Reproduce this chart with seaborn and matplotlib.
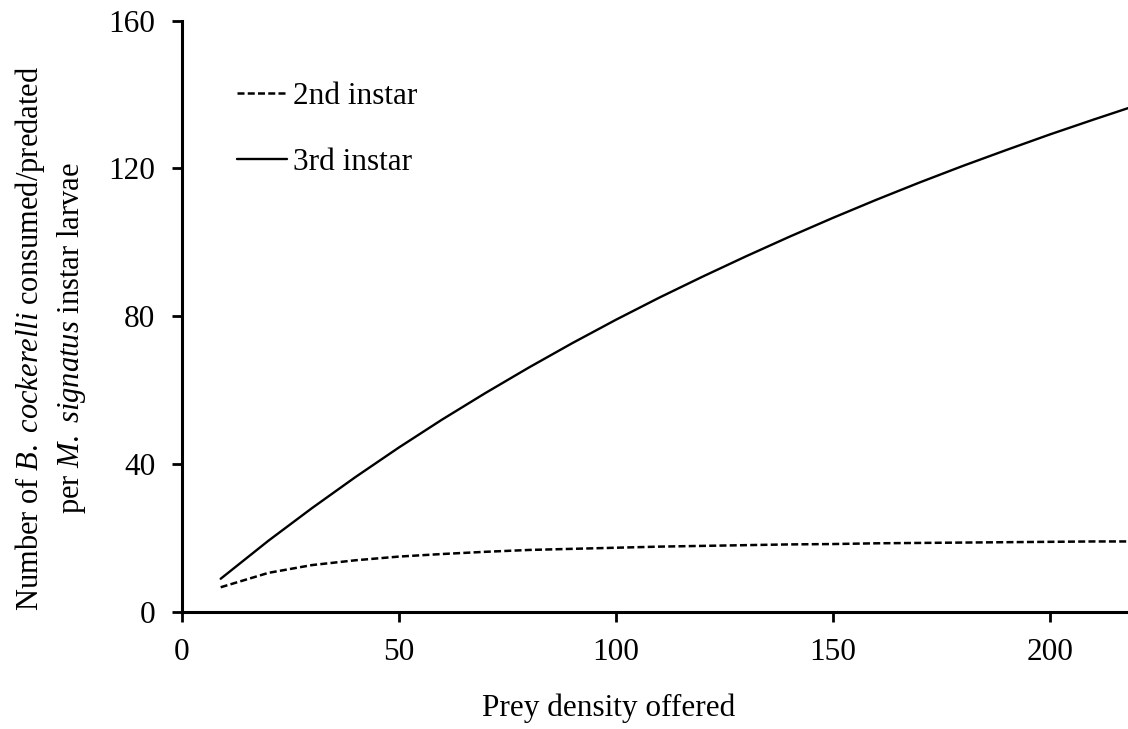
import matplotlib
matplotlib.use("Agg")
import matplotlib.pyplot as plt
import seaborn as sns
import pandas as pd

# Data
prey_density = [9, 20, 30, 40, 50, 60, 70, 80, 90, 100, 110, 120, 130, 140,
                150, 160, 170, 180, 190, 200, 210, 220]
second_instar = [6.6, 10.5, 12.6, 13.9, 14.9, 15.6, 16.2, 16.7, 17.0, 17.3, 17.6,
                 17.8, 18.0, 18.2, 18.3, 18.5, 18.6, 18.7, 18.8, 18.9, 19.0, 19.0]
third_instar = [8.9, 19.2, 28.0, 36.4, 44.4, 52.0, 59.2, 66.1, 72.7, 79.0, 85.0,
                90.7, 96.2, 101.5, 106.6, 111.5, 116.2, 120.7, 125.0, 129.2, 133.2, 137.1]
series_names = ["2nd instar", "3rd instar"]
x_ticks = [0, 50, 100, 150, 200]
y_ticks = [0, 40, 80, 120, 160]

sns.set_theme(style="ticks")
plt.rcParams["font.family"] = ["Liberation Serif", "DejaVu Serif"]
plt.rcParams["mathtext.fontset"] = "custom"
plt.rcParams["mathtext.rm"] = "Liberation Serif"
plt.rcParams["mathtext.it"] = "Liberation Serif:italic"
plt.rcParams["text.color"] = "black"
plt.rcParams["axes.labelcolor"] = "black"
plt.rcParams["xtick.color"] = "black"
plt.rcParams["ytick.color"] = "black"

FS = 22.5

df2 = pd.DataFrame({"x": prey_density, "y": second_instar})
df3 = pd.DataFrame({"x": prey_density, "y": third_instar})

fig = plt.figure(figsize=(11.28, 7.29), dpi=100)
ax = fig.add_axes([0.161, 0.161, 0.839, 0.8106])

sns.lineplot(data=df2, x="x", y="y", ax=ax, color="black", lw=1.8,
             ls=(0, (2.8, 1.3)), label=series_names[0])
sns.lineplot(data=df3, x="x", y="y", ax=ax, color="black", lw=1.7,
             ls="-", label=series_names[1])

ax.set_xlim(0, 218)
ax.set_ylim(0, 160)
ax.set_xticks(x_ticks)
ax.set_yticks(y_ticks)
ax.tick_params(axis="both", labelsize=FS, length=7, width=2, color="black",
               labelcolor="black", direction="out")
ax.tick_params(axis="x", pad=12)
ax.tick_params(axis="y", pad=12)
for s in ["top", "right"]:
    ax.spines[s].set_visible(False)
for s in ["left", "bottom"]:
    ax.spines[s].set_linewidth(2.2)
    ax.spines[s].set_color("black")

ax.set_xlabel("Prey density offered", fontsize=FS, color="black")
ax.xaxis.set_label_coords(0.451, -0.138)
ax.set_ylabel("Number of $\\mathit{B.\\ cockerelli}$ consumed/predated\n"
              "per $\\mathit{M.\\ signatus}$ instar larvae", fontsize=22,
              color="black", linespacing=1.33)
ax.yaxis.set_label_coords(-0.099, 0.463)

leg = ax.legend(loc="upper left", bbox_to_anchor=(0.0458, 0.918), frameon=False,
                fontsize=FS, handlelength=1.6, handletextpad=0.18, labelspacing=1.2,
                borderaxespad=0)
for t in leg.get_texts():
    t.set_color("black")

fig.savefig("out.png", dpi=100)
